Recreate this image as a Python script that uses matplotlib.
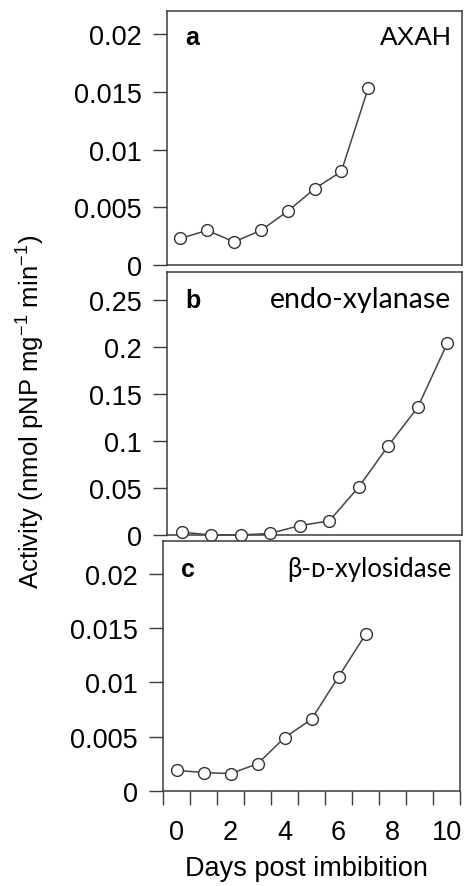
import matplotlib
matplotlib.use('Agg')
import matplotlib.pyplot as plt
from matplotlib import ticker

plt.rcParams['font.family'] = ['Liberation Sans', 'DejaVu Sans']
plt.rcParams['mathtext.fontset'] = 'custom'
plt.rcParams['mathtext.rm'] = 'Liberation Sans'

# data
days_a = [0, 1, 2, 3, 4, 5, 6, 7]
axah = [0.0023, 0.0030, 0.0020, 0.0030, 0.00465, 0.0066, 0.0081, 0.0153]

days_b = [0, 1, 2, 3, 4, 5, 6, 7, 8, 9]
endo_xyl = [0.003, 0.0, 0.0, 0.0017, 0.010, 0.015, 0.051, 0.095, 0.136, 0.204]

days_c = [0, 1, 2, 3, 4, 5, 6, 7]
beta_xyl = [0.0019, 0.0017, 0.0016, 0.0025, 0.0049, 0.0066, 0.0105, 0.0144]

yticks_a = [0, 0.005, 0.01, 0.015, 0.02]
yticks_b = [0, 0.05, 0.1, 0.15, 0.2, 0.25]
yticks_c = [0, 0.005, 0.01, 0.015, 0.02]
xticks = [0, 2, 4, 6, 8, 10]

W, H = 467, 887
fig = plt.figure(figsize=(W / 100, H / 100), dpi=100)

def box(l, t, r, b):
    return [l / W, 1 - b / H, (r - l) / W, (b - t) / H]

ax_a = fig.add_axes(box(167, 12, 462, 266))
ax_b = fig.add_axes(box(167, 273, 462, 536))
ax_c = fig.add_axes(box(163, 542, 460, 792))

edge = '#3c3c3c'
panels = [
    (ax_a, days_a, axah, 0.022, yticks_a, (-0.5, 10.5), 'a', 'AXAH', 0.966, 0.870, 19),
    (ax_b, days_b, endo_xyl, 0.28, yticks_b, (-0.5, 9.5), 'b', 'endo-xylanase', 0.962, 0.867, 20.5),
    (ax_c, days_c, beta_xyl, 0.023, yticks_c, (-0.5, 10.5), 'c', 'β-ᴅ-xylosidase', 0.973, 0.860, 18.5),
]

for ax, x, y, ytop, yt, xl, letter, name, nx, ny, fs in panels:
    ax.plot(x, y, '-', color='#454545', lw=1.1, marker='o', ms=8.5,
            mfc='white', mec='#333333', mew=1.0, clip_on=False, zorder=3)
    ax.set_ylim(0, ytop)
    ax.set_xlim(*xl)
    ax.set_yticks(yt)
    ax.yaxis.set_major_formatter(ticker.FuncFormatter(lambda v, p: f'{v:g}'))
    ax.tick_params(axis='y', direction='out', length=10, width=1, color=edge,
                   labelsize=19.5, pad=8)
    for s in ax.spines.values():
        s.set_color(edge)
        s.set_linewidth(1.1)
    ax.text(0.061, ny, letter, transform=ax.transAxes, fontsize=18,
            fontweight='bold', va='baseline', ha='left')
    if name == 'AXAH':
        ax.text(nx, ny, name, transform=ax.transAxes, fontsize=fs,
                va='baseline', ha='right')
    else:
        ax.text(nx, ny, name, transform=ax.transAxes, fontsize=fs,
                family=['Lato', 'DejaVu Sans'], va='baseline', ha='right')

for ax in (ax_a, ax_b):
    ax.set_xticks([])

ax_c.set_xticks(xticks)
ax_c.set_xticks([v - 0.5 for v in range(0, 12)], minor=True)
ax_c.tick_params(axis='x', which='major', length=0, labelsize=19.5, pad=20)
ax_c.tick_params(axis='x', which='minor', direction='out', length=10, width=1,
                 color=edge)

fig.text(0.064, 0.535, 'Activity (nmol pNP mg$^{-1}$ min$^{-1}$)', rotation=90,
         fontsize=18.5, ha='center', va='center')
fig.text(0.656, 0.012, 'Days post imbibition', fontsize=19.5, ha='center',
         va='baseline')

fig.savefig('out.png', dpi=100)
